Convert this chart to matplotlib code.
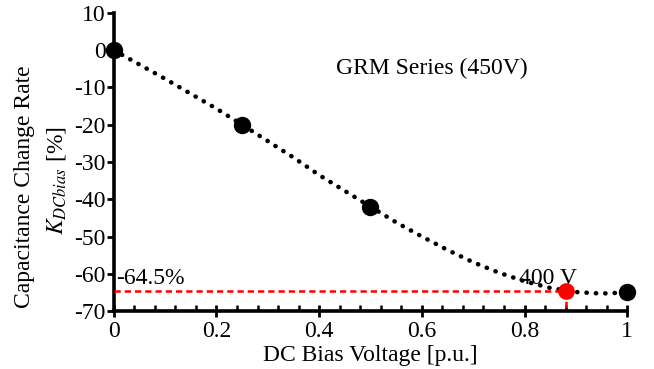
import matplotlib
matplotlib.use("Agg")
import matplotlib.pyplot as plt
from matplotlib.ticker import MultipleLocator

plt.rcParams['font.family'] = ['Liberation Serif', 'DejaVu Serif']
plt.rcParams['mathtext.fontset'] = 'stix'
plt.rcParams['axes.unicode_minus'] = False

# measured points
meas_x = [0, 0.25, 0.5, 1.0]
meas_y = [0, -20, -42, -65]

# dotted trend curve
curve_x = [0, 0.1, 0.2, 0.25, 0.3, 0.35, 0.4, 0.5, 0.55, 0.6, 0.65, 0.7, 0.75, 0.8, 0.85, 0.9, 0.95, 1.0]
curve_y = [0, -7.7, -15.7, -20, -24.4, -28.8, -33.5, -42, -46.2, -50.0, -53.6, -56.9, -59.7, -62.0, -63.8, -64.9, -65.3, -65]

# operating point (400 V)
op_x = 0.88
op_y = -64.5

fig = plt.figure(figsize=(6.54, 3.69), dpi=100)
ax = fig.add_axes([0.174, 0.157, 0.785, 0.808])

ax.plot(curve_x, curve_y, color='black', lw=3.3, linestyle=(0, (0.05, 2.0)),
        dash_capstyle='round', zorder=2)
ax.plot(meas_x, meas_y, 'o', color='black', ms=11.5, zorder=4, clip_on=False)

ax.plot([0, op_x], [op_y, op_y], color='red', lw=1.8, linestyle=(0, (2.5, 1.6)), zorder=3)
ax.plot([op_x, op_x], [op_y, -70], color='red', lw=1.8, linestyle=(0, (2.5, 1.6)), zorder=3)
ax.plot([op_x], [op_y], 'o', color='red', ms=11, zorder=5)

ax.text(0.62, -4.8, 'GRM Series (450V)', fontsize=17, ha='center', va='center')
ax.text(0.846, -61.2, '400 V', fontsize=17, ha='center', va='center')
ax.text(0.004, -61.2, '-64.5%', fontsize=17, ha='left', va='center')

ax.set_xlim(0, 1)
ax.set_ylim(-70, 10)
ax.set_xticks([0, 0.2, 0.4, 0.6, 0.8, 1])
ax.set_xticklabels(['0', '0.2', '0.4', '0.6', '0.8', '1'])
ax.xaxis.set_minor_locator(MultipleLocator(0.04))
ax.yaxis.set_major_locator(MultipleLocator(10))

for s in ['top', 'right']:
    ax.spines[s].set_visible(False)
for s in ['left', 'bottom']:
    ax.spines[s].set_linewidth(2.6)

ax.tick_params(axis='x', which='major', direction='inout', length=9, width=2, labelsize=17, pad=3)
ax.tick_params(axis='x', which='minor', direction='in', length=4, width=1.8)
ax.tick_params(axis='y', which='major', direction='out', length=5, width=2, labelsize=17, pad=1)

ax.set_xlabel('DC Bias Voltage [p.u.]', fontsize=17, labelpad=2)

# y label, two lines placed like the original (a bit below the axis centre)
fig.text(25 / 654, 1 - 187 / 369, 'Capacitance Change Rate', fontsize=17,
         rotation=90, ha='center', va='center')
fig.text(57 / 654, 1 - 181 / 369, '$K_{DCbias}$ [%]', fontsize=17,
         rotation=90, ha='center', va='center')

fig.savefig('out.png', dpi=100)
